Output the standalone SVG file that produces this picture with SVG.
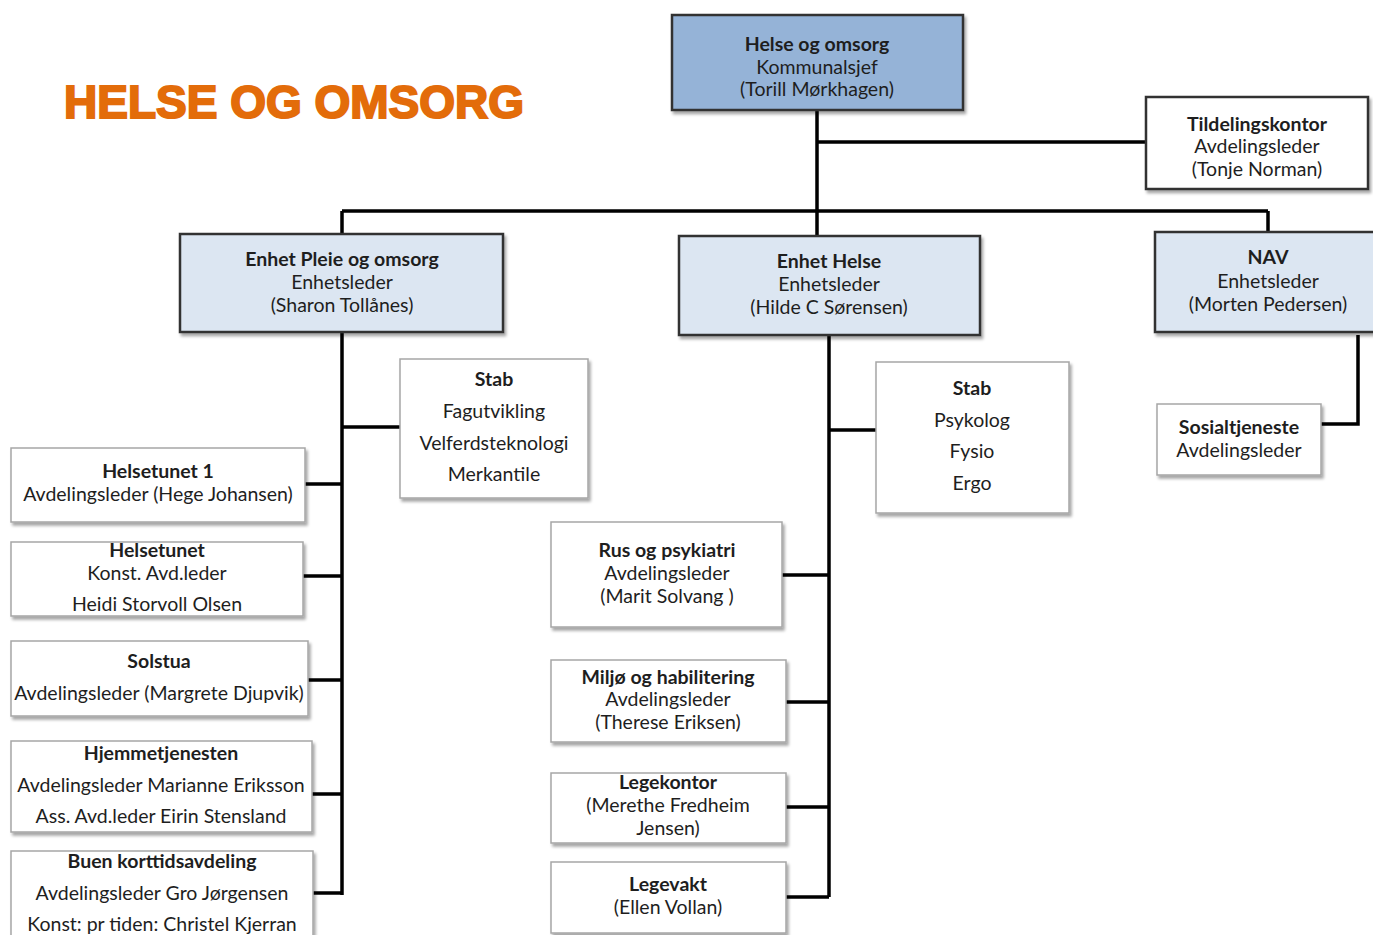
<svg xmlns="http://www.w3.org/2000/svg" width="1373" height="935" viewBox="0 0 1373 935">
<defs>
<filter id="sh" x="-10%" y="-10%" width="130%" height="140%"><feDropShadow dx="2" dy="3" stdDeviation="1.6" flood-color="#000" flood-opacity="0.35"/></filter>
<style>
text{font-family:Lato,"Open Sans","Liberation Sans",sans-serif;font-size:19.5px;fill:#1e1e1e;text-anchor:middle}
.b{font-weight:bold}
.top{fill:#95B3D7;stroke:#333;stroke-width:2.5}
.unit{fill:#DCE6F2;stroke:#333;stroke-width:2.5}
.dark{fill:#fff;stroke:#333;stroke-width:2.5}
.box{fill:#fff;stroke:#a6a6a6;stroke-width:1.5}
.ln{stroke:#000;stroke-width:3.5;fill:none}
.title{font-family:"Liberation Sans",Arial,sans-serif;font-weight:bold;font-size:46px;fill:#E36C0A;stroke:#E36C0A;stroke-width:2;text-anchor:start}
</style>
</defs>
<rect width="1373" height="935" fill="#fff"/>
<text class="title" x="64" y="118">HELSE OG OMSORG</text>
<g id="connectors">
<path class="ln" d="M817 110V236M817 142H1146M342 211H1268M342 211V234M1268 211V232"/>
<path class="ln" d="M342 332V895M342 427H400M305 484H342M303 576H342M308 680H342M312 794H342M313 893H342"/>
<path class="ln" d="M829 335V897M829 430H876M782 575H829M786 702H829M786 807H829M786 897H829"/>
<path class="ln" d="M1358 335V424H1321"/>
</g>
<g id="helse-omsorg"><rect class="top" x="672" y="15" width="291" height="95" filter="url(#sh)"/><text class="b" x="817" y="51">Helse og omsorg</text><text x="817" y="74">Kommunalsjef</text><text x="817" y="96">(Torill Mørkhagen)</text></g>
<g id="tildelingskontor"><rect class="dark" x="1146" y="97" width="222" height="92" filter="url(#sh)"/><text class="b" x="1257" y="131">Tildelingskontor</text><text x="1257" y="153">Avdelingsleder</text><text x="1257" y="176">(Tonje Norman)</text></g>
<g id="enhet-pleie"><rect class="unit" x="180" y="234" width="323" height="98" filter="url(#sh)"/><text class="b" x="342" y="266">Enhet Pleie og omsorg</text><text x="342" y="289">Enhetsleder</text><text x="342" y="312">(Sharon Tollånes)</text></g>
<g id="enhet-helse"><rect class="unit" x="679" y="236" width="301" height="99" filter="url(#sh)"/><text class="b" x="829" y="268">Enhet Helse</text><text x="829" y="291">Enhetsleder</text><text x="829" y="314">(Hilde C Sørensen)</text></g>
<g id="nav"><rect class="unit" x="1155" y="232" width="222" height="100" filter="url(#sh)"/><text class="b" x="1268" y="264">NAV</text><text x="1268" y="288">Enhetsleder</text><text x="1268" y="311">(Morten Pedersen)</text></g>
<g id="stab-pleie"><rect class="box" x="400" y="359" width="188" height="139" filter="url(#sh)"/><text class="b" x="494" y="386">Stab</text><text x="494" y="418">Fagutvikling</text><text x="494" y="450">Velferdsteknologi</text><text x="494" y="481">Merkantile</text></g>
<g id="helsetunet1"><rect class="box" x="11" y="448" width="294" height="74" filter="url(#sh)"/><text class="b" x="158" y="478">Helsetunet 1</text><text x="158" y="501">Avdelingsleder (Hege Johansen)</text></g>
<g id="helsetunet"><rect class="box" x="11" y="542" width="292" height="74" filter="url(#sh)"/><text class="b" x="157" y="557">Helsetunet</text><text x="157" y="580">Konst. Avd.leder</text><text x="157" y="611">Heidi Storvoll Olsen</text></g>
<g id="solstua"><rect class="box" x="11" y="641" width="297" height="75" filter="url(#sh)"/><text class="b" x="159" y="668">Solstua</text><text x="159" y="700">Avdelingsleder (Margrete Djupvik)</text></g>
<g id="hjemmetjenesten"><rect class="box" x="11" y="741" width="301" height="91" filter="url(#sh)"/><text class="b" x="161" y="760">Hjemmetjenesten</text><text x="161" y="792">Avdelingsleder Marianne Eriksson</text><text x="161" y="823">Ass. Avd.leder Eirin Stensland</text></g>
<g id="buen"><rect class="box" x="11" y="851" width="302" height="95" filter="url(#sh)"/><text class="b" x="162" y="868">Buen korttidsavdeling</text><text x="162" y="900">Avdelingsleder Gro Jørgensen</text><text x="162" y="931">Konst: pr tiden: Christel Kjerran</text></g>
<g id="stab-helse"><rect class="box" x="876" y="362" width="193" height="151" filter="url(#sh)"/><text class="b" x="972" y="395">Stab</text><text x="972" y="427">Psykolog</text><text x="972" y="458">Fysio</text><text x="972" y="490">Ergo</text></g>
<g id="rus"><rect class="box" x="551" y="522" width="231" height="105" filter="url(#sh)"/><text class="b" x="667" y="557">Rus og psykiatri</text><text x="667" y="580">Avdelingsleder</text><text x="667" y="603">(Marit Solvang )</text></g>
<g id="miljo"><rect class="box" x="551" y="660" width="235" height="82" filter="url(#sh)"/><text class="b" x="668" y="684">Miljø og habilitering</text><text x="668" y="706">Avdelingsleder</text><text x="668" y="729">(Therese Eriksen)</text></g>
<g id="legekontor"><rect class="box" x="551" y="773" width="235" height="70" filter="url(#sh)"/><text class="b" x="668" y="789">Legekontor</text><text x="668" y="812">(Merethe Fredheim</text><text x="668" y="835">Jensen)</text></g>
<g id="legevakt"><rect class="box" x="551" y="862" width="235" height="71" filter="url(#sh)"/><text class="b" x="668" y="891">Legevakt</text><text x="668" y="914">(Ellen Vollan)</text></g>
<g id="sosialtjeneste"><rect class="box" x="1157" y="404" width="164" height="71" filter="url(#sh)"/><text class="b" x="1239" y="434">Sosialtjeneste</text><text x="1239" y="457">Avdelingsleder</text></g>
</svg>
